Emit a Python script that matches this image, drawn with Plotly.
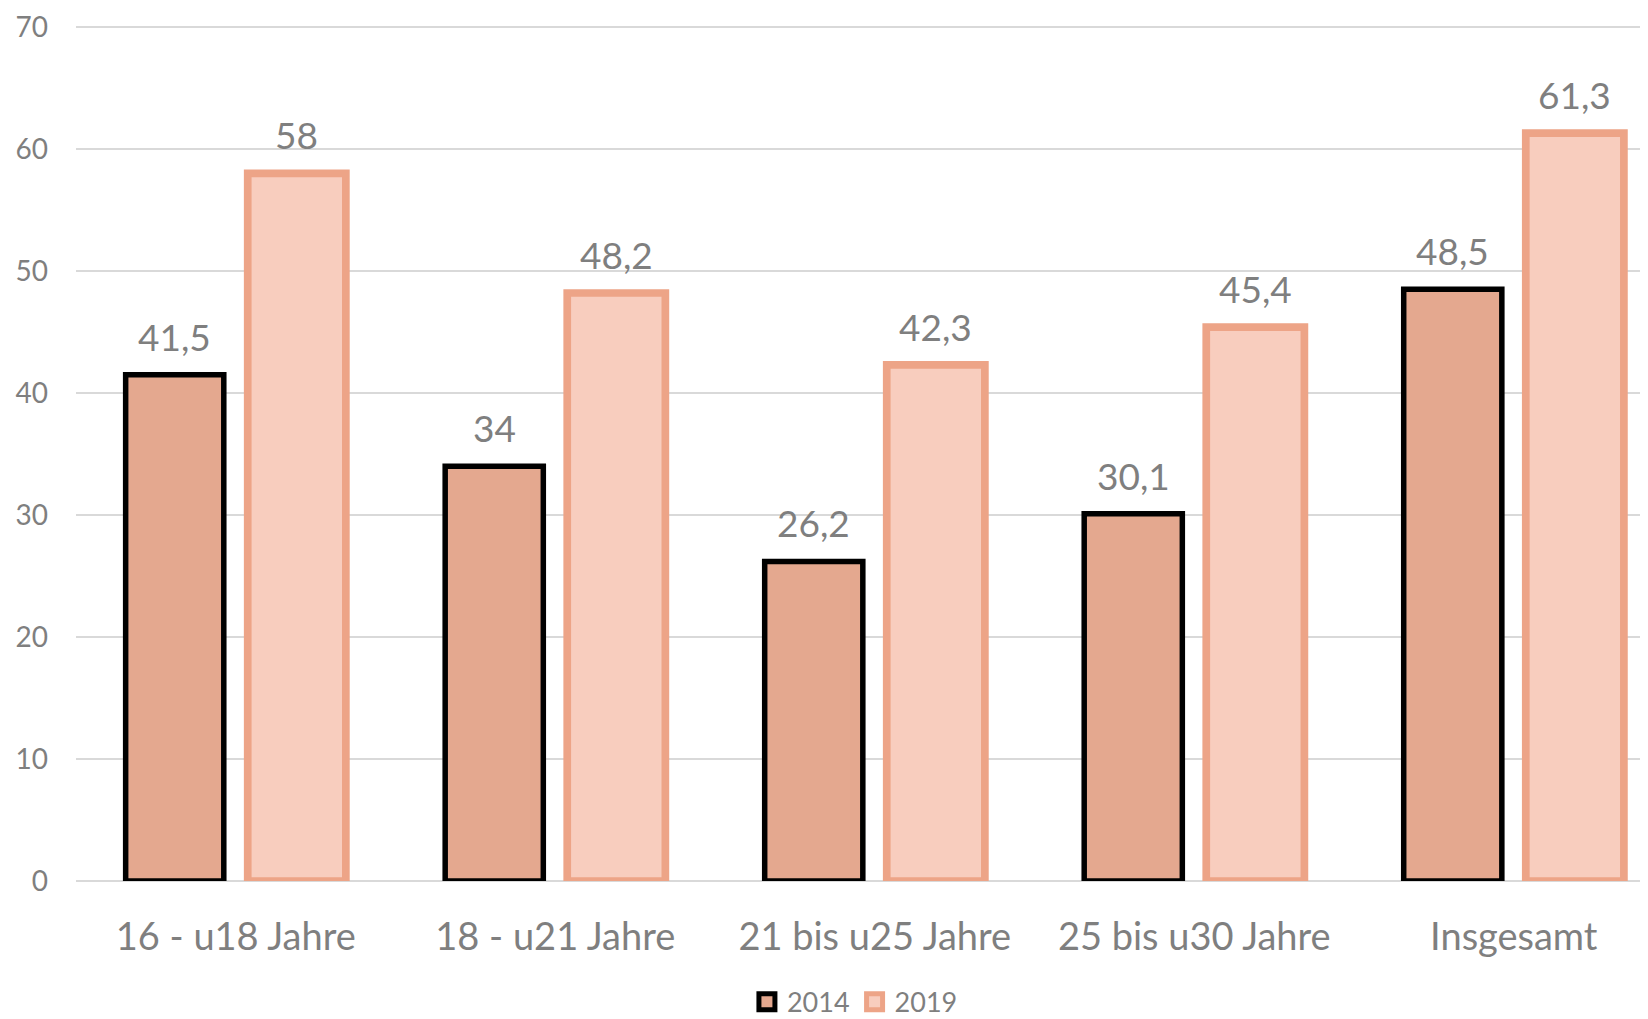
import plotly.graph_objects as go

categories = ["16 - u18 Jahre", "18 - u21 Jahre", "21 bis u25 Jahre", "25 bis u30 Jahre", "Insgesamt"]
values_2014 = [41.5, 34, 26.2, 30.1, 48.5]
values_2019 = [58, 48.2, 42.3, 45.4, 61.3]
y_ticks = [0, 10, 20, 30, 40, 50, 60, 70]

FONT = "Lato"
GRAY = "#7F7F7F"
FILL_2014, LINE_2014 = "#E4A88F", "#000000"
FILL_2019, LINE_2019 = "#F8CDBE", "#EDA487"
x_pos = list(range(len(categories)))
BARGAP = 0.236
BARGROUPGAP = 0.196
slot = (1 - BARGAP) / 2


def fmt(v):
    return f"{v:g}".replace(".", ",")


fig = go.Figure()
fig.add_trace(go.Bar(
    name="2014", x=x_pos, y=values_2014, showlegend=False,
    marker=dict(color=FILL_2014, line=dict(color=LINE_2014, width=5.5)),
))
fig.add_trace(go.Bar(
    name="2019", x=x_pos, y=values_2019, showlegend=False,
    marker=dict(color=FILL_2019, line=dict(color=LINE_2019, width=7.7)),
))
# legend entries
for name, fill, line in (("2014", FILL_2014, LINE_2014), ("2019", FILL_2019, LINE_2019)):
    fig.add_trace(go.Scatter(
        name=name, x=[None], y=[None], mode="markers",
        marker=dict(symbol="square", size=16, color=fill, line=dict(color=line, width=5)),
    ))

annotations = []
for i, (a, b) in enumerate(zip(values_2014, values_2019)):
    for off, v in ((-slot / 2, a), (slot / 2, b)):
        annotations.append(dict(
            x=i + off, y=v, xref="x", yref="y", text=fmt(v), showarrow=False,
            yanchor="bottom", xanchor="center", yshift=14,
            font=dict(family=FONT, size=37, color=GRAY),
        ))

# the page body has an 8px default margin, so the figure is sized to fit the window
fig.update_layout(
    width=1640, height=1011,
    margin=dict(l=68, r=0, t=16, b=138, autoexpand=False),
    paper_bgcolor="white", plot_bgcolor="white",
    barmode="group", bargap=BARGAP, bargroupgap=BARGROUPGAP,
    font=dict(family=FONT, color=GRAY),
    annotations=annotations,
    showlegend=True,
    legend=dict(
        orientation="h", x=0.4955, xanchor="center", y=-0.1415, yanchor="middle",
        font=dict(family=FONT, size=27, color=GRAY), itemwidth=30,
        traceorder="normal",
    ),
    xaxis=dict(
        range=[-0.5, 4.42], tickmode="array", tickvals=x_pos, ticktext=categories,
        showgrid=False, zeroline=False, showline=False, ticks="", automargin=False,
        tickfont=dict(family=FONT, size=38, color=GRAY), ticklabelstandoff=30,
    ),
    yaxis=dict(
        range=[0, 70.25], tickmode="array", tickvals=y_ticks,
        showgrid=True, gridcolor="#D9D9D9", gridwidth=2,
        zeroline=True, zerolinecolor="#D9D9D9", zerolinewidth=2,
        showline=False, ticks="", automargin=False,
        tickfont=dict(family=FONT, size=28, color=GRAY), ticklabelstandoff=27,
    ),
)

fig.write_html("out.html")
